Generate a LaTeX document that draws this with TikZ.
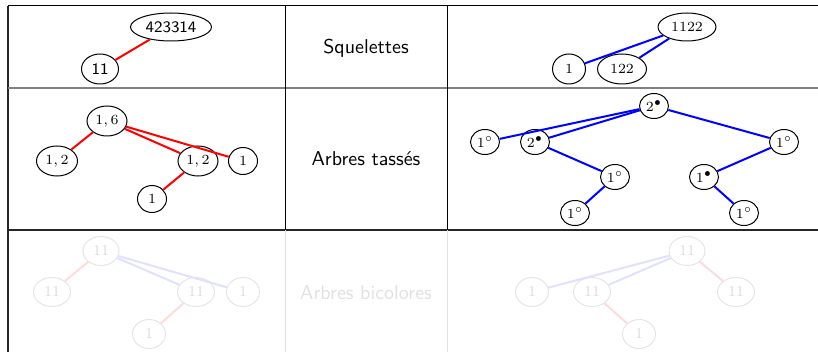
\documentclass[tikz,border=0pt]{standalone}
\usetikzlibrary{shapes.geometric}
\begin{document}
\begin{tikzpicture}[x=0.5pt,y=-0.5pt,
  tn/.style={ellipse,draw,line width=0.5pt,inner sep=0pt,font=\scriptsize},
  sz/.style 2 args={minimum width=#1,minimum height=#2},
  sanstn/.style={tn,font=\fontsize{8}{9.5}\selectfont\sffamily},
  fadetn/.style={tn,draw=black!10,text=black!14,font=\fontsize{7.5}{9}\selectfont},
  redge/.style={draw=red,line width=1pt},
  bedge/.style={draw=blue,line width=1pt},
  fredge/.style={draw=red!14,line width=1pt},
  fbedge/.style={draw=blue!12,line width=1pt},
  lbl/.style={font=\sffamily},
  grid/.style={line width=0.5pt}]
\useasboundingbox (0,0) rectangle (818,352);

% table
\draw[grid] (8,6) -- (818,6);
\draw[line width=0.8pt,black!85] (8,6) -- (8,352);
\draw[line width=1pt,black!50] (8,88.5) -- (818,88.5);
\draw[line width=0.7pt,black!85] (8,230) -- (818,230);
\draw[grid] (285,6) -- (285,230) (447,6) -- (447,230);
\draw[grid,black!12] (285,230) -- (285,352) (447,230) -- (447,352);

% labels
\node[lbl] (l1) at (366,48) {Squelettes};
\node[lbl] (l2) at (366,159) {Arbres tassés};
\node[lbl,text=black!12] (l3) at (366,293) {Arbres bicolores};

% row 1 left
\node[sanstn,sz={40.5pt}{14pt}] (a1) at (171,27) {423314};
\node[sanstn,sz={18.5pt}{15pt}] (a2) at (100,69) {11};
\draw[redge] (a1) -- (a2);

% row 1 right
\node[tn,sz={29pt}{14pt}] (b1) at (687,27) {1122};
\node[tn,sz={16.5pt}{15pt}] (b2) at (569,69) {1};
\node[tn,sz={24.5pt}{15pt}] (b3) at (622,69) {122};
\draw[bedge] (b1) -- (b2);
\draw[bedge] (b1) -- (b3);

% row 2 left
\node[tn,sz={20pt}{15pt}] (c1) at (107,121) {$1,6$};
\node[tn,sz={20.5pt}{15pt}] (c2) at (57,161) {$1,2$};
\node[tn,sz={20pt}{15pt}] (c3) at (198,161) {$1,2$};
\node[tn,sz={14.5pt}{13.5pt}] (c4) at (243,161) {$1$};
\node[tn,sz={14.5pt}{13.5pt}] (c5) at (152,199) {$1$};
\draw[redge] (c1) -- (c2);
\draw[redge] (c1) -- (c3);
\draw[redge] (c1) -- (c4);
\draw[redge] (c3) -- (c5);

% row 2 right
\node[tn,sz={14.5pt}{12.5pt}] (d1) at (654,106) {$2^\bullet$};
\node[tn,sz={14.5pt}{12.5pt}] (d2) at (485,142) {$1^\circ$};
\node[tn,sz={14.5pt}{12.5pt}] (d3) at (535,142) {$2^\bullet$};
\node[tn,sz={14.5pt}{12.5pt}] (d4) at (784,142) {$1^\circ$};
\node[tn,sz={14.5pt}{12.5pt}] (d5) at (615,177) {$1^\circ$};
\node[tn,sz={14.5pt}{12.5pt}] (d6) at (704,177) {$1^\bullet$};
\node[tn,sz={14.5pt}{12.5pt}] (d7) at (575,213) {$1^\circ$};
\node[tn,sz={14.5pt}{12.5pt}] (d8) at (744,213) {$1^\circ$};
\draw[bedge] (d1) -- (d2);
\draw[bedge] (d1) -- (d3);
\draw[bedge] (d1) -- (d4);
\draw[bedge] (d3) -- (d5);
\draw[bedge] (d5) -- (d7);
\draw[bedge] (d4) -- (d6);
\draw[bedge] (d6) -- (d8);

% row 3 left (faded)
\node[fadetn,sz={18pt}{14.5pt}] (e1) at (101,251) {11};
\node[fadetn,sz={18.5pt}{14.5pt}] (e2) at (52,292) {11};
\node[fadetn,sz={18.5pt}{14.5pt}] (e3) at (196,292) {11};
\node[fadetn,sz={16.5pt}{14.5pt}] (e4) at (243,292) {1};
\node[fadetn,sz={16.5pt}{14.5pt}] (e5) at (149,334) {1};
\draw[fredge] (e1) -- (e2);
\draw[fbedge] (e1) -- (e3);
\draw[fbedge] (e1) -- (e4);
\draw[fredge] (e3) -- (e5);

% row 3 right (faded)
\node[fadetn,sz={18pt}{14.5pt}] (f1) at (687,251) {11};
\node[fadetn,sz={16.5pt}{14.5pt}] (f2) at (532,292) {1};
\node[fadetn,sz={18.5pt}{14.5pt}] (f3) at (592,292) {11};
\node[fadetn,sz={18.5pt}{14.5pt}] (f4) at (736,292) {11};
\node[fadetn,sz={16.5pt}{14.5pt}] (f5) at (639,334) {1};
\draw[fbedge] (f1) -- (f2);
\draw[fbedge] (f1) -- (f3);
\draw[fredge] (f1) -- (f4);
\draw[fredge] (f3) -- (f5);
\end{tikzpicture}
\end{document}
